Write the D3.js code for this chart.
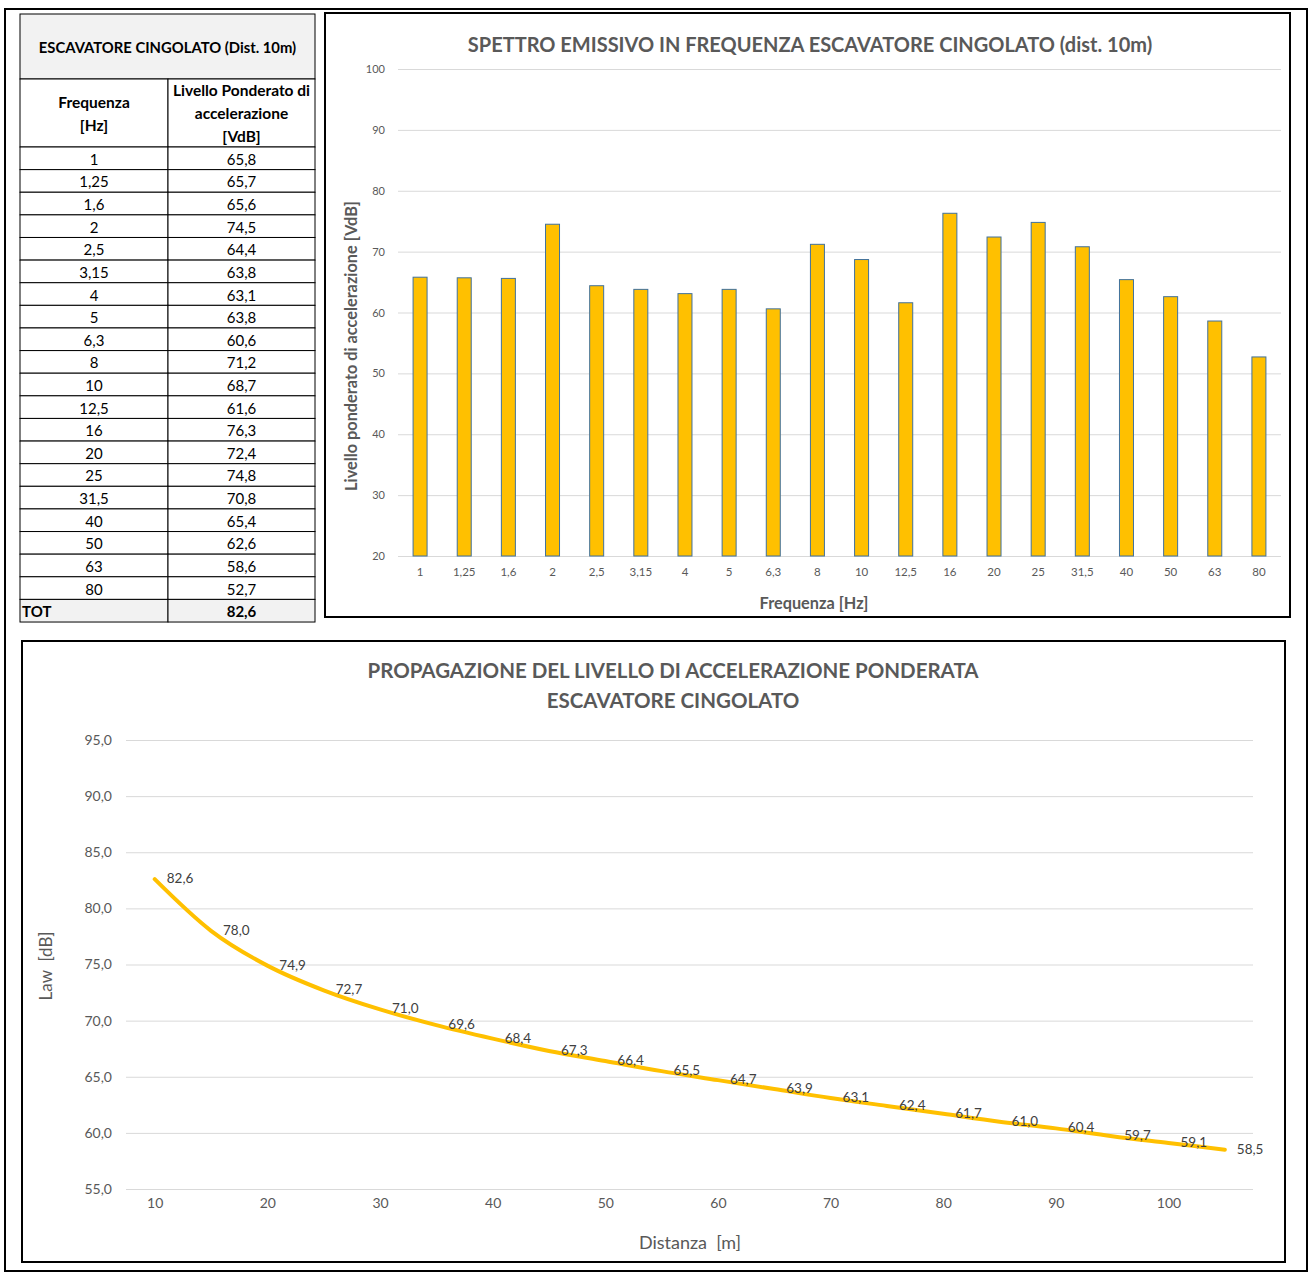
<!DOCTYPE html>
<html>
<head>
<meta charset="utf-8">
<script src="https://cdn.jsdelivr.net/npm/d3@7"></script>
<style>
  html, body { margin: 0; padding: 0; background: #fff; }
  svg { display: block; }
  text { font-family: Lato, "Open Sans", sans-serif; }
</style>
</head>
<body>
<svg id="chart" width="1312" height="1275"></svg>
<script>
// ---------- DATA ----------
const tableTitle = "ESCAVATORE CINGOLATO (Dist. 10m)";
const freqLabels = ["1","1,25","1,6","2","2,5","3,15","4","5","6,3","8","10","12,5","16","20","25","31,5","40","50","63","80"];
const levels = [65.8,65.7,65.6,74.5,64.4,63.8,63.1,63.8,60.6,71.2,68.7,61.6,76.3,72.4,74.8,70.8,65.4,62.6,58.6,52.7];
const totalLevel = 82.6;
const barYTicks = [20,30,40,50,60,70,80,90,100];

const distances = [10,15,20,25,30,35,40,45,50,55,60,65,70,75,80,85,90,95,100,105];
const lawValues = [82.6,78.0,74.9,72.7,71.0,69.6,68.4,67.3,66.4,65.5,64.7,63.9,63.1,62.4,61.7,61.0,60.4,59.7,59.1,58.5];
const lineYTicks = [55,60,65,70,75,80,85,90,95];
const lineXTicks = [10,20,30,40,50,60,70,80,90,100];

// ---------- SETUP ----------
const locale = d3.formatLocale({decimal: ",", thousands: ".", grouping: [3], currency: ["€",""]});
const f1 = locale.format(".1f");
const svg = d3.select("#chart");
const GRID = "#d9d9d9", TXT = "#595959", BAR = "#FFC000", BARSTROKE = "#41719C";

// outer frame
svg.append("rect").attr("x", 5).attr("y", 9).attr("width", 1302).attr("height", 1262)
  .attr("fill", "none").attr("stroke", "#000").attr("stroke-width", 2);

// ---------- TABLE ----------
const tb = svg.append("g");
const tx0 = 20, tx1 = 168, tx2 = 315;
const rowTop = 147, rowH = 22.62;
const TFS = 15;
tb.append("rect").attr("x", tx0).attr("y", 14).attr("width", tx2 - tx0).attr("height", 65)
  .attr("fill", "#f2f2f2").attr("stroke", "#000").attr("stroke-width", 1);
tb.append("text").attr("x", (tx0 + tx2) / 2).attr("y", 47).attr("text-anchor", "middle")
  .attr("dominant-baseline", "central").attr("font-weight", "bold").attr("font-size", 14.8)
  .attr("fill", "#000").text(tableTitle);
// header row
tb.append("rect").attr("x", tx0).attr("y", 79).attr("width", tx1 - tx0).attr("height", rowTop - 79)
  .attr("fill", "#fff").attr("stroke", "#000");
tb.append("rect").attr("x", tx1).attr("y", 79).attr("width", tx2 - tx1).attr("height", rowTop - 79)
  .attr("fill", "#fff").attr("stroke", "#000");
[["Frequenza", 102], ["[Hz]", 125]].forEach(([t, y]) =>
  tb.append("text").attr("x", (tx0 + tx1) / 2).attr("y", y).attr("text-anchor", "middle")
    .attr("dominant-baseline", "central").attr("font-weight", "bold").attr("font-size", 15.5).text(t));
[["Livello Ponderato di", 90], ["accelerazione", 113], ["[VdB]", 136]].forEach(([t, y]) =>
  tb.append("text").attr("x", (tx1 + tx2) / 2).attr("y", y).attr("text-anchor", "middle")
    .attr("dominant-baseline", "central").attr("font-weight", "bold").attr("font-size", 15.5).text(t));
// data rows
freqLabels.forEach((fl, i) => {
  const y = rowTop + i * rowH;
  tb.append("rect").attr("x", tx0).attr("y", y).attr("width", tx1 - tx0).attr("height", rowH)
    .attr("fill", "#fff").attr("stroke", "#000");
  tb.append("rect").attr("x", tx1).attr("y", y).attr("width", tx2 - tx1).attr("height", rowH)
    .attr("fill", "#fff").attr("stroke", "#000");
  tb.append("text").attr("x", (tx0 + tx1) / 2).attr("y", y + rowH / 2 + 0.5).attr("text-anchor", "middle")
    .attr("dominant-baseline", "central").attr("font-size", TFS).text(fl);
  tb.append("text").attr("x", (tx1 + tx2) / 2).attr("y", y + rowH / 2 + 0.5).attr("text-anchor", "middle")
    .attr("dominant-baseline", "central").attr("font-size", TFS).text(f1(levels[i]));
});
{
  const y = rowTop + freqLabels.length * rowH;
  tb.append("rect").attr("x", tx0).attr("y", y).attr("width", tx1 - tx0).attr("height", rowH)
    .attr("fill", "#f2f2f2").attr("stroke", "#000");
  tb.append("rect").attr("x", tx1).attr("y", y).attr("width", tx2 - tx1).attr("height", rowH)
    .attr("fill", "#f2f2f2").attr("stroke", "#000");
  tb.append("text").attr("x", tx0 + 2).attr("y", y + rowH / 2 + 0.5)
    .attr("dominant-baseline", "central").attr("font-weight", "bold").attr("font-size", TFS).text("TOT");
  tb.append("text").attr("x", (tx1 + tx2) / 2).attr("y", y + rowH / 2 + 0.5).attr("text-anchor", "middle")
    .attr("dominant-baseline", "central").attr("font-weight", "bold").attr("font-size", TFS).text(f1(totalLevel));
}

// ---------- BAR CHART ----------
const bc = svg.append("g");
bc.append("rect").attr("x", 325).attr("y", 13).attr("width", 965).attr("height", 604)
  .attr("fill", "#fff").attr("stroke", "#000").attr("stroke-width", 2);
bc.append("text").attr("x", 810).attr("y", 44).attr("text-anchor", "middle").attr("dominant-baseline", "central")
  .attr("font-weight", "bold").attr("font-size", 20).attr("fill", TXT)
  .text("SPETTRO EMISSIVO IN FREQUENZA ESCAVATORE CINGOLATO (dist. 10m)");

const bx = d3.scaleBand().domain(freqLabels).range([398, 1281]).paddingInner(0).paddingOuter(0);
const by = d3.scaleLinear().domain([20, 100]).range([556, 69]);

const gy = bc.append("g").attr("transform", "translate(398,0)")
  .call(d3.axisLeft(by).tickValues(barYTicks).tickSize(-(1281 - 398)).tickPadding(13).tickFormat(d3.format("d")));
gy.select(".domain").remove();
gy.selectAll(".tick line").attr("stroke", GRID).attr("stroke-width", 1);
gy.selectAll(".tick text").attr("fill", TXT).attr("font-size", 11).attr("font-family", "Lato, sans-serif");

const gx = bc.append("g").attr("transform", "translate(0,556)")
  .call(d3.axisBottom(bx).tickSize(0).tickPadding(12));
gx.select(".domain").remove();
gx.selectAll(".tick text").attr("fill", TXT).attr("font-size", 11.5).attr("font-family", "Lato, sans-serif");

bc.selectAll("rect.bar").data(levels).join("rect").attr("class", "bar")
  .attr("x", (d, i) => bx(freqLabels[i]) + bx.bandwidth() / 2 - 7)
  .attr("width", 14)
  .attr("y", d => by(d))
  .attr("height", d => by(20) - by(d))
  .attr("fill", BAR).attr("stroke", BARSTROKE).attr("stroke-width", 1);

bc.append("text").attr("x", 814).attr("y", 602).attr("text-anchor", "middle").attr("dominant-baseline", "central")
  .attr("font-weight", "bold").attr("font-size", 16.3).attr("fill", TXT).text("Frequenza [Hz]");
bc.append("text").attr("transform", "translate(350,346) rotate(-90)").attr("text-anchor", "middle")
  .attr("dominant-baseline", "central").attr("font-weight", "bold").attr("font-size", 16.3).attr("fill", TXT)
  .text("Livello ponderato di accelerazione [VdB]");

// ---------- LINE CHART ----------
const lc = svg.append("g");
lc.append("rect").attr("x", 22).attr("y", 641).attr("width", 1263).attr("height", 621)
  .attr("fill", "#fff").attr("stroke", "#000").attr("stroke-width", 2);
lc.append("text").attr("x", 673).attr("y", 670).attr("text-anchor", "middle").attr("dominant-baseline", "central")
  .attr("font-weight", "bold").attr("font-size", 20.5).attr("fill", TXT)
  .text("PROPAGAZIONE DEL LIVELLO DI ACCELERAZIONE PONDERATA");
lc.append("text").attr("x", 673).attr("y", 700).attr("text-anchor", "middle").attr("dominant-baseline", "central")
  .attr("font-weight", "bold").attr("font-size", 20.5).attr("fill", TXT)
  .text("ESCAVATORE CINGOLATO");

const lx = d3.scaleLinear().domain([7.45, 107.5]).range([126, 1253]);
const ly = d3.scaleLinear().domain([55, 95]).range([1189, 740]);

const lgy = lc.append("g").attr("transform", "translate(126,0)")
  .call(d3.axisLeft(ly).tickValues(lineYTicks).tickSize(-(1253 - 126)).tickPadding(14).tickFormat(f1));
lgy.select(".domain").remove();
lgy.selectAll(".tick line").attr("stroke", GRID).attr("stroke-width", 1);
lgy.selectAll(".tick text").attr("fill", TXT).attr("font-size", 14).attr("font-family", "Lato, sans-serif");

const lgx = lc.append("g").attr("transform", "translate(0,1189)")
  .call(d3.axisBottom(lx).tickValues(lineXTicks).tickSize(0).tickPadding(9).tickFormat(d3.format("d")));
lgx.select(".domain").remove();
lgx.selectAll(".tick text").attr("fill", TXT).attr("font-size", 14).attr("font-family", "Lato, sans-serif");

const line = d3.line().x((d, i) => lx(distances[i])).y(d => ly(d)).curve(d3.curveMonotoneX);
lc.append("path").datum(lawValues).attr("d", line).attr("fill", "none")
  .attr("stroke", BAR).attr("stroke-width", 4).attr("stroke-linecap", "round").attr("stroke-linejoin", "round");

lc.selectAll("text.lbl").data(lawValues).join("text").attr("class", "lbl")
  .attr("x", (d, i) => lx(distances[i]) + 12)
  .attr("y", d => ly(d) - 1)
  .attr("dominant-baseline", "central")
  .attr("font-size", 13.5).attr("fill", "#404040")
  .text(d => f1(d));

lc.append("text").attr("x", 690).attr("y", 1242).attr("text-anchor", "middle").attr("dominant-baseline", "central")
  .attr("font-size", 18).attr("fill", TXT).attr("xml:space", "preserve").text("Distanza  [m]");
lc.append("text").attr("transform", "translate(45,966) rotate(-90)").attr("text-anchor", "middle")
  .attr("dominant-baseline", "central").attr("font-size", 17).attr("fill", TXT)
  .attr("xml:space", "preserve").text("Law  [dB]");
</script>
</body>
</html>
